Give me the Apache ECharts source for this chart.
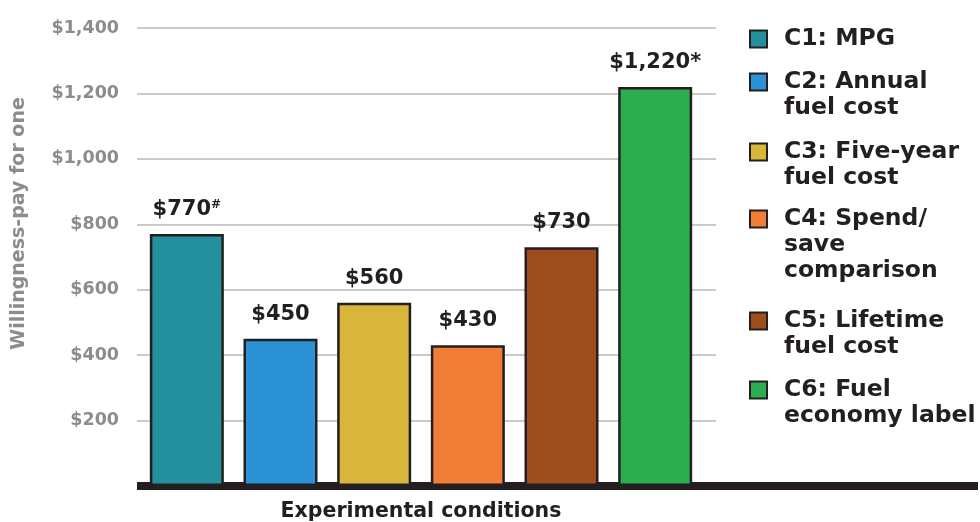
<!DOCTYPE html>
<html>
<head>
<meta charset="utf-8">
<script src="https://cdn.jsdelivr.net/npm/echarts@6/dist/echarts.min.js"></script>
<style>
html,body{margin:0;padding:0;background:#fff;}
#chart{width:980px;height:522px;}
</style>
</head>
<body>
<div id="chart"></div>
<script>
// ---- data ----
const categories = ['C1', 'C2', 'C3', 'C4', 'C5', 'C6'];
const seriesNames = ['C1: MPG', 'C2: Annual fuel cost', 'C3: Five-year fuel cost', 'C4: Spend/save comparison', 'C5: Lifetime fuel cost', 'C6: Fuel economy label'];
const legendLabels = ['C1: MPG', 'C2: Annual\nfuel cost', 'C3: Five-year\nfuel cost', 'C4: Spend/\nsave\ncomparison', 'C5: Lifetime\nfuel cost', 'C6: Fuel\neconomy label'];
const values = [770, 450, 560, 430, 730, 1220];
const valueMarks = ['#', '', '', '', '', '*'];
const yMin = 0, yMax = 1400, yInterval = 200;
const yAxisTitle = 'Willingness-pay for one';
const xAxisTitle = 'Experimental conditions';

// ---- style ----
const colors = ['#22909d', '#2b92d6', '#d8b63b', '#f07e37', '#9c4e1f', '#2cad50'];
const ink = '#231f20';
const grey = '#8c8c8c';
const font = 'DejaVu Sans';
const legendCenters = [39, 82, 152, 219, 321, 390];
const lh = 26;

const fmt = v => '$' + v.toLocaleString('en-US');

const chart = echarts.init(document.getElementById('chart'), null, {renderer: 'canvas'});

const series = seriesNames.map((name, i) => ({
  name: name,
  type: 'bar',
  xAxisIndex: 1,
  yAxisIndex: 1,
  stack: 'all',
  barWidth: 74,
  data: categories.map((c, j) => j === i ? values[i] : '-'),
  itemStyle: {color: colors[i], borderColor: ink, borderWidth: 2.5},
  label: {
    show: true,
    position: 'top',
    distance: 14,
    formatter: p => '{v|' + fmt(p.value) + '}' + (valueMarks[i] === '#' ? '{s|#}' : (valueMarks[i] ? '{v|' + valueMarks[i] + '}' : '')),
    rich: {
      v: {fontFamily: font, fontSize: 21, fontWeight: 'bold', color: ink},
      s: {fontFamily: font, fontSize: 12, fontWeight: 'bold', color: ink, verticalAlign: 'top'}
    }
  },
  emphasis: {disabled: true}
}));

const legends = seriesNames.map((name, i) => {
  const n = legendLabels[i].split('\n').length;
  return {
    data: [name],
    orient: 'vertical',
    left: 749,
    top: legendCenters[i] - (2 * n - 1) * lh / 2,
    padding: 0,
    itemWidth: 17,
    itemHeight: 17,
    icon: 'rect',
    selectedMode: false,
    itemStyle: {borderColor: ink, borderWidth: 2},
    // leading blank lines keep the first text line level with the swatch
    formatter: () => '\n'.repeat(n - 1) + legendLabels[i],
    textStyle: {
      fontFamily: font, fontSize: 23.5, fontWeight: 'bold', color: ink,
      lineHeight: lh, padding: [0, 0, 0, 12]
    }
  };
});

const option = {
  animation: false,
  backgroundColor: '#ffffff',
  grid: [
    {left: 137, right: 264, top: 28, bottom: 36, outerBoundsMode: 'none'},
    {left: 140, width: 562, top: 28, bottom: 36, outerBoundsMode: 'none'},
    {left: 137, right: 2, top: 28, bottom: 36, outerBoundsMode: 'none'}
  ],
  xAxis: [
    {gridIndex: 0, type: 'category', data: categories, show: false},
    {
      gridIndex: 1, type: 'category', data: categories,
      axisLine: {show: false}, axisTick: {show: false}, axisLabel: {show: false},
      name: xAxisTitle, nameLocation: 'middle', nameGap: 15,
      nameTextStyle: {fontFamily: font, fontSize: 20.5, fontWeight: 'bold', color: ink}
    },
    {
      gridIndex: 2, type: 'category', data: categories,
      axisLine: {show: true, lineStyle: {color: ink, width: 8, cap: 'butt'}},
      axisTick: {show: false}, axisLabel: {show: false}
    }
  ],
  yAxis: [
    {
      gridIndex: 0, type: 'value', min: yMin, max: yMax, interval: yInterval,
      axisLine: {show: false}, axisTick: {show: false},
      splitLine: {show: true, lineStyle: {color: '#b8b8b8', width: 1.5}},
      axisLabel: {
        margin: 18, fontFamily: font, fontSize: 17.5, fontWeight: 'bold', color: grey,
        formatter: v => v === 0 ? '' : fmt(v)
      },
      name: yAxisTitle, nameLocation: 'middle', nameGap: 108, nameRotate: 90,
      nameTextStyle: {fontFamily: font, fontSize: 19, fontWeight: 'bold', color: grey, padding: [0, 0, 0, 67]}
    },
    {gridIndex: 1, type: 'value', min: yMin, max: yMax, interval: yInterval, show: false, splitLine: {show: false}},
    {gridIndex: 2, type: 'value', min: yMin, max: yMax, interval: yInterval, show: false, splitLine: {show: false}}
  ],
  legend: legends,
  series: series
};

chart.setOption(option);
</script>
</body>
</html>
